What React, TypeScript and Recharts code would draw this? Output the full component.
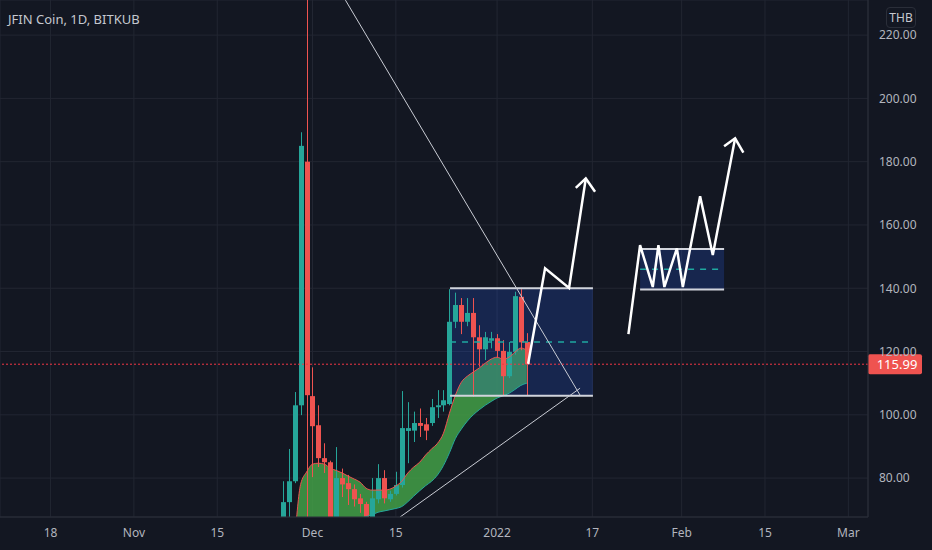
import React from 'react';
import {
  ComposedChart,
  Bar,
  Line,
  Area,
  XAxis,
  YAxis,
  CartesianGrid,
  ReferenceArea,
  ReferenceLine,
} from 'recharts';

// ---------- data (days relative to 2022-01-01) ----------
const candleDays = [
  -36, -35, -34, -33, -32, -31, -30, -29, -28, -27, -26, -25, -24, -23, -22, -21, -20, -19, -18, -17, -16,
  -15, -14, -13, -12, -11, -10, -9, -8, -7, -6, -5, -4, -3, -2, -1, 0, 1, 2, 3, 4, 5,
];
const opens = [
  65, 72.4, 79, 103, 180, 105.9, 96.7, 86.3, 85, 64, 80, 78.4, 76.5, 73.6, 71.8, 66, 73.3, 80, 73.3, 75, 77.8,
  94.9, 95, 97.4, 97, 97.4, 102.4, 103, 103.4, 129.4, 134.7, 129.4, 132.2, 124.5, 120.7, 123.4, 124.2, 120.2, 112.2, 119.9, 137.3, 123,
];
const highs = [
  79, 89.2, 107.2, 189.3, 250, 115, 103, 91, 85.5, 89.8, 83, 81, 78, 75, 72.5, 80, 84.4, 82.5, 76, 82, 107.5,
  104, 101, 102, 99, 105, 107.8, 107.8, 139.7, 138.6, 136.9, 136.9, 136.9, 128.3, 126.2, 126.2, 125.5, 123.6, 123, 138.9, 139.7, 125.8,
];
const lows = [
  62, 66, 78.4, 99.9, 60, 80.3, 83.5, 81.6, 60, 62, 74, 71.5, 71, 69, 64, 64, 72, 72, 72.5, 74.5, 77,
  84.7, 91.4, 93, 92, 96.5, 99, 101, 103, 127.4, 125.5, 128, 105.7, 115.2, 117.3, 121, 118, 106, 111.6, 119, 120.4, 106.2,
];
const closes = [
  72.4, 79, 103, 185, 106.2, 96.4, 86.3, 85, 62, 80, 78, 76.5, 73.3, 71.8, 66, 73.6, 80, 73.6, 75, 77.8, 95.8,
  95.8, 97.4, 96.5, 95, 102.4, 103, 104.6, 129.4, 134.7, 129.4, 132.2, 124.5, 120.7, 124.5, 124.2, 120.2, 112.2, 119.9, 137.5, 122.9, 115.99,
];

const bandDays = [
  -34, -33, -32, -31, -30, -29, -28, -27, -26, -25, -24, -23, -22, -21, -20, -19, -18, -17, -16, -15,
  -14, -13, -12, -11, -10, -9, -8, -7, -6, -5, -4, -3, -2, -1, 0, 1, 2, 3, 4, 5,
];
const bandUpper = [
  60, 78, 81.9, 84.4, 84.7, 84.4, 83.1, 82.4, 81.6, 80.6, 79.7, 78.7, 76.8, 76.2, 76.2, 76.2, 76.5, 77.5, 79, 81.6,
  83.5, 85, 87.3, 89.2, 91, 94.2, 100.5, 106.2, 110.3, 112.2, 113.5, 114.8, 116.3, 117.6, 118.2, 117.6, 118.2, 119.8, 121.1, 120.4,
];
const bandLower = [
  45, 50, 53, 56, 58, 60, 62, 63.5, 65, 66.3, 67, 67.4, 67.8, 68.4, 69.2, 69.6, 70, 70.4, 71, 72.5,
  74.3, 76, 77.6, 79, 81, 84, 88, 92.5, 95.5, 98, 100, 101.6, 103, 104.2, 105.3, 106, 106.8, 108, 109.3, 110,
];

const xTickDays = [-75, -61, -47, -31, -17, 0, 16, 31, 45, 59];
const xTickLabels = ['18', 'Nov', '15', 'Dec', '15', '2022', '17', 'Feb', '15', 'Mar'];
const yTicks = [80, 100, 120, 140, 160, 180, 200, 220];
const lastPrice = 115.99;

// drawings (in day / price units)
const box1Days = [-7.9, 16.1];
const box1Prices = [106, 140, 123]; // bottom, top, middle
const box2Days = [24.02, 38.13];
const box2Prices = [139.6, 152.4, 146];

const trendDownDays = [-25.47, 13.94];
const trendDownValues = [231.06, 106.2];
const trendUpDays = [-16.29, 13.94];
const trendUpValues = [67.7, 108.4];

const arrow1Days = [5.2, 8.06, 12.09, 14.9];
const arrow1Values = [116, 146.3, 140.1, 174.7];
const arrow1HeadDays = [13.22, 14.9, 16.46];
const arrow1HeadValues = [171.7, 174.7, 170.5];

const arrow2Days = [22.06, 24.02, 26.15, 27.1, 28.1, 30.2, 31.2, 34.1, 36.23, 39.98];
const arrow2Values = [125.5, 153.6, 140.4, 153.6, 140.4, 152.6, 140.4, 169.1, 150.5, 187.4];
const arrow2HeadDays = [38.13, 39.98, 41.37];
const arrow2HeadValues = [184.9, 187.4, 182.9];

// ---------- styles ----------
const BG = '#131722';
const GREEN = '#26a69a';
const RED = '#ef5350';
const TEXT = '#b2b5be';
const FONT = '"Noto Sans", "DejaVu Sans", sans-serif';

const pts = (ds: number[], vs: number[]) => ds.map((d, i) => ({ d, v: vs[i] }));

const allDays = Array.from(new Set([...candleDays, ...bandDays])).sort((a, b) => a - b);
const chartData = allDays.map((d) => {
  const ci = candleDays.indexOf(d);
  const bi = bandDays.indexOf(d);
  return {
    d,
    open: ci >= 0 ? opens[ci] : null,
    high: ci >= 0 ? highs[ci] : null,
    low: ci >= 0 ? lows[ci] : null,
    close: ci >= 0 ? closes[ci] : null,
    range: ci >= 0 ? [lows[ci], highs[ci]] : null,
    upper: bi >= 0 ? bandUpper[bi] : null,
    lower: bi >= 0 ? bandLower[bi] : null,
    band: bi >= 0 ? [bandLower[bi], bandUpper[bi]] : null,
  };
});

const Candle = (props: any) => {
  const { x, y, width, height, payload } = props;
  if (payload == null || payload.high == null) return null;
  const { open, close, high, low } = payload;
  const cx = Math.round(x + width / 2) + 0.5;
  const k = height / (high - low);
  const py = (v: number) => y + (high - v) * k;
  const color = close >= open ? GREEN : RED;
  const top = py(Math.max(open, close));
  const bot = py(Math.min(open, close));
  return (
    <g>
      <line x1={cx} x2={cx} y1={y} y2={y + height} stroke={color} strokeWidth={1} />
      <rect x={cx - 2.5} y={top} width={5} height={Math.max(1, bot - top)} fill={color} />
    </g>
  );
};

const PriceLabel = (props: any) => {
  const { viewBox } = props;
  if (!viewBox) return null;
  const x = viewBox.x + viewBox.width;
  const y = viewBox.y;
  return (
    <g>
      <rect x={x} y={y - 10} width={54} height={20} rx={2} fill={RED} />
      <text x={x + 29} y={y + 5} textAnchor="middle" fill="#ffffff" fontSize={13} fontFamily={FONT}>
        {lastPrice.toFixed(2)}
      </text>
    </g>
  );
};

const segLine = (key: string, data: any[], stroke: string, width: number, dash?: string) => (
  <Line
    key={key}
    data={data}
    dataKey="v"
    type="linear"
    stroke={stroke}
    strokeWidth={width}
    strokeDasharray={dash}
    dot={false}
    activeDot={false}
    isAnimationActive={false}
    legendType="none"
    strokeLinejoin="miter"
  />
);

export default function App() {
  return (
    <div style={{ position: 'absolute', left: 0, top: 0, width: 932, height: 550, background: BG, overflow: 'hidden' }}>
      <ComposedChart width={932} height={550} data={chartData} margin={{ top: 0, right: 0, bottom: 0, left: 0 }}>
        <CartesianGrid stroke="#222632" strokeWidth={1} />
        <XAxis
          dataKey="d"
          type="number"
          domain={[-83.49, 62.3]}
          allowDataOverflow
          ticks={xTickDays}
          tickFormatter={(v: number) => xTickLabels[xTickDays.indexOf(v)] ?? ''}
          height={33}
          tickSize={0}
          tickMargin={11}
          axisLine={{ stroke: '#2a2e39' }}
          tickLine={false}
          tick={{ fill: TEXT, fontSize: 12, fontFamily: FONT }}
          interval={0}
        />
        <YAxis
          orientation="right"
          type="number"
          domain={[67.7, 231.1]}
          allowDataOverflow
          ticks={yTicks}
          tickFormatter={(v: number) => v.toFixed(2)}
          width={64}
          tickSize={0}
          tickMargin={11}
          axisLine={{ stroke: '#2a2e39' }}
          tickLine={false}
          tick={{ fill: TEXT, fontSize: 12, fontFamily: FONT }}
          interval={0}
        />
        <Area
          dataKey="band"
          type="monotone"
          fill="#43a047"
          fillOpacity={0.85}
          stroke="none"
          isAnimationActive={false}
          activeDot={false}
          connectNulls={false}
        />
        <Line dataKey="upper" type="monotone" stroke={RED} strokeWidth={1} dot={false} activeDot={false} isAnimationActive={false} />
        <Line dataKey="lower" type="monotone" stroke={GREEN} strokeWidth={1} dot={false} activeDot={false} isAnimationActive={false} />
        <Bar dataKey="range" barSize={5} shape={<Candle />} isAnimationActive={false} />
        <ReferenceArea
          x1={box1Days[0]}
          x2={box1Days[1]}
          y1={box1Prices[0]}
          y2={box1Prices[1]}
          fill="#2962ff"
          fillOpacity={0.2}
          stroke="none"
          ifOverflow="visible"
        />
        <ReferenceArea
          x1={box2Days[0]}
          x2={box2Days[1]}
          y1={box2Prices[0]}
          y2={box2Prices[1]}
          fill="#2962ff"
          fillOpacity={0.2}
          stroke="none"
          ifOverflow="visible"
        />
        {segLine('b1top', pts(box1Days, [box1Prices[1], box1Prices[1]]), '#d1d4dc', 2)}
        {segLine('b1bot', pts(box1Days, [box1Prices[0], box1Prices[0]]), '#d1d4dc', 2)}
        {segLine('b1mid', pts(box1Days, [box1Prices[2], box1Prices[2]]), '#1fa8a0', 1.5, '6 6')}
        {segLine('b2top', pts(box2Days, [box2Prices[1], box2Prices[1]]), '#d1d4dc', 2)}
        {segLine('b2bot', pts(box2Days, [box2Prices[0], box2Prices[0]]), '#d1d4dc', 2)}
        {segLine('b2mid', pts(box2Days, [box2Prices[2], box2Prices[2]]), '#1fa8a0', 1.5, '6 6')}
        {segLine('tdown', pts(trendDownDays, trendDownValues), '#c9ccd4', 1)}
        {segLine('tup', pts(trendUpDays, trendUpValues), '#c9ccd4', 1)}
        {segLine('a1', pts(arrow1Days, arrow1Values), '#ffffff', 2.5)}
        {segLine('a1h', pts(arrow1HeadDays, arrow1HeadValues), '#ffffff', 2.5)}
        {segLine('a2', pts(arrow2Days, arrow2Values), '#ffffff', 2.5)}
        {segLine('a2h', pts(arrow2HeadDays, arrow2HeadValues), '#ffffff', 2.5)}
        <ReferenceLine
          y={lastPrice}
          stroke="#f23645"
          strokeDasharray="2 2"
          strokeWidth={1}
          ifOverflow="visible"
          label={<PriceLabel />}
        />
      </ComposedChart>
      <div
        style={{
          position: 'absolute',
          left: 8,
          top: 10,
          fontFamily: FONT,
          fontSize: 13,
          color: '#c5c8cf',
          whiteSpace: 'nowrap',
        }}
      >
        JFIN Coin, 1D, BITKUB
      </div>
      <div
        style={{
          position: 'absolute',
          left: 886,
          top: 7,
          width: 30,
          height: 21,
          boxSizing: 'border-box',
          border: '1px solid #2a2e39',
          borderRadius: 4,
          fontFamily: FONT,
          fontSize: 12,
          color: '#c5c8cf',
          lineHeight: '19px',
          textAlign: 'center',
        }}
      >
        THB
      </div>
    </div>
  );
}
